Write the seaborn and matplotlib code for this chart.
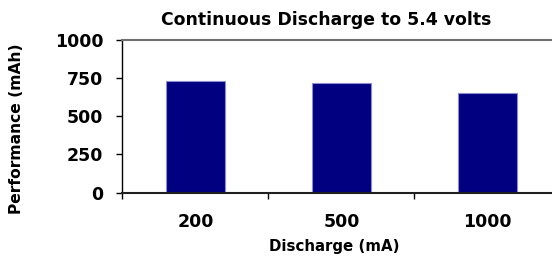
import matplotlib
matplotlib.use("Agg")
import matplotlib.pyplot as plt
import pandas as pd
import seaborn as sns

# Data
discharge_ma = ["200", "500", "1000"]
performance_mah = [728, 717, 650]
y_ticks = [0, 250, 500, 750, 1000]

sns.set_style("white")
plt.rcParams["font.family"] = ["DejaVu Sans"]
plt.rcParams["font.weight"] = "bold"
plt.rcParams["text.color"] = "black"
plt.rcParams["axes.labelcolor"] = "black"
plt.rcParams["xtick.color"] = "black"
plt.rcParams["ytick.color"] = "black"

df = pd.DataFrame({"Discharge": discharge_ma, "Performance": performance_mah})

fig = plt.figure(figsize=(5.52, 2.59), dpi=100)
# plot area runs past the right edge, as in the cropped original
ax = fig.add_axes([0.2219, 0.256, 0.7935, 0.5907])

sns.barplot(data=df, x="Discharge", y="Performance", color="#000080",
            saturation=1, width=0.4, edgecolor="#8c8cd0", linewidth=0.8, ax=ax)

ax.set_xlim(-0.5, 2.5)
ax.set_ylim(0, 1000)
ax.set_yticks(y_ticks)
ax.set_yticklabels([str(v) for v in y_ticks], fontsize=12.5, fontweight="bold")
ax.set_xticklabels(discharge_ma, fontsize=12.5, fontweight="bold")

# category ticks sit between bars
ax.set_xticks([-0.5, 0.5, 1.5, 2.5], minor=True)
ax.tick_params(axis="x", which="major", bottom=True, length=0, pad=14.5)
ax.tick_params(axis="x", which="minor", bottom=True, length=4.3, width=1,
               color="black", direction="out")
ax.tick_params(axis="y", which="major", left=True, length=4.3, width=1,
               color="black", pad=9.5, direction="out")

for side in ["top", "left", "bottom"]:
    ax.spines[side].set_visible(True)
ax.spines["top"].set_color("#707070")
ax.spines["top"].set_linewidth(1.5)
ax.spines["left"].set_color("black")
ax.spines["left"].set_linewidth(1)
ax.spines["bottom"].set_color("#202020")
ax.spines["bottom"].set_linewidth(1.5)
ax.spines["right"].set_visible(False)

ax.set_xlabel("Discharge (mA)", fontsize=10.8, fontweight="bold")
ax.set_ylabel("Performance (mAh)", fontsize=11.2, fontweight="bold")
ax.xaxis.set_label_coords(0.483, -0.30)
ax.yaxis.set_label_coords(-0.224, 0.42)

fig.text(0.5915, 0.922, "Continuous Discharge to 5.4 volts", ha="center", va="center",
         fontsize=12.4, fontweight="bold")

fig.savefig("out.png", dpi=100)
